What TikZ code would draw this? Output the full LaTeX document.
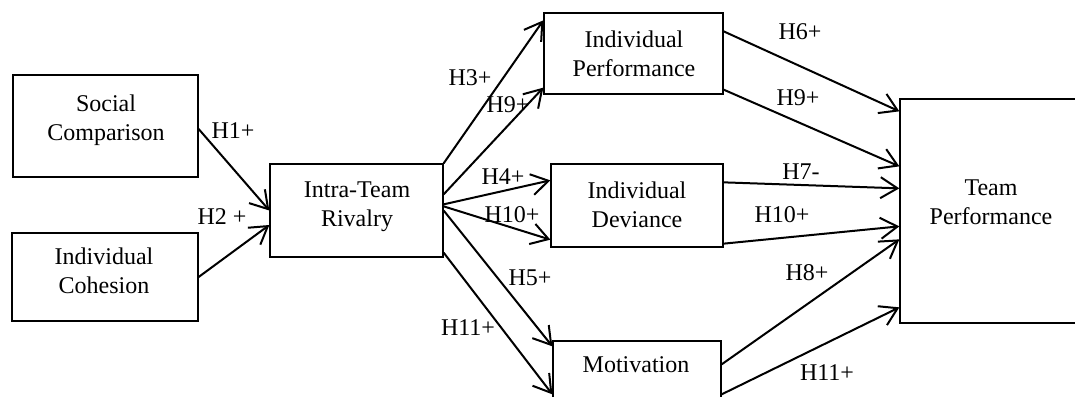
\documentclass[tikz,border=0pt]{standalone}
\usepackage{fontspec}
\setmainfont{Liberation Serif}
\usetikzlibrary{arrows.meta}
\begin{document}
\begin{tikzpicture}[x=1pt,y=-1pt,
  box/.style={draw, line width=1.3pt, inner sep=0pt, rectangle},
  txt/.style={inner sep=0pt, align=center, anchor=north, font=\fontsize{24}{28.5}\selectfont},
  lbl/.style={inner sep=0pt, font=\fontsize{24}{28.5}\selectfont},
  arr/.style={line width=2pt, -{Straight Barb[length=17pt,width=21pt,line width=2pt]}}]
\clip (0,0) rectangle (1075,396);
\fill[white] (0,0) rectangle (1075,396);
% boxes
\node[box, minimum width=185pt, minimum height=102pt] (sc) at (105.5,126) {};
\node[box, minimum width=186pt, minimum height=88pt] (ic) at (105,277) {};
\node[box, minimum width=173pt, minimum height=93pt] (itr) at (356.5,210.5) {};
\node[box, minimum width=179pt, minimum height=81pt] (ip) at (633.5,53.5) {};
\node[box, minimum width=172pt, minimum height=83pt] (id) at (637,205.5) {};
\node[box, minimum width=168pt, minimum height=90pt] (mot) at (637,386) {};
\node[box, minimum width=180pt, minimum height=224pt] (tp) at (990,211) {};
% texts
\node[txt] (sct) at (106,95) {Social\\Comparison};
\node[txt] (ict) at (104,248) {Individual\\Cohesion};
\node[txt] (itrt) at (357,182) {Intra-Team\\Rivalry};
\node[txt] (ipt) at (634,31) {Individual\\Performance};
\node[txt] (idt) at (637,182) {Individual\\Deviance};
\node[txt] (mott) at (636,356) {Motivation};
\node[txt] (tpt) at (991,180) {Team\\Performance};
% arrows left
\draw[arr] ([yshift=-3pt]sc.east) -- (itr.west);
\draw[arr] (ic.east) -- ([yshift=-14.5pt]itr.west);
\draw[arr] (itr.north east) -- ([yshift=-8pt]ip.north west);
\draw[arr] ([yshift=-31pt]itr.north east) -- ([yshift=7pt]ip.south west);
\draw[arr] ([yshift=-41pt]itr.north east) -- ([yshift=-17pt]id.north west);
\draw[arr] ([yshift=-43pt]itr.north east) -- ([yshift=8pt]id.south west);
\draw[arr] (itr.east) -- ([yshift=-6pt]mot.north west);
\draw[arr] ([yshift=5pt]itr.south east) -- ([yshift=-54pt]mot.north west);
% arrows right
\draw[arr] ([yshift=-19pt]ip.north east) -- ([yshift=-13pt]tp.north west);
\draw[arr] ([yshift=5pt]ip.south east) -- ([yshift=-68pt]tp.north west);
\draw[arr] ([yshift=-19pt]id.north east) -- ([yshift=-90pt]tp.north west);
\draw[arr] ([yshift=4pt]id.south east) -- ([yshift=-128pt]tp.north west);
\draw[arr] ([yshift=-24pt]mot.north east) -- ([yshift=-141pt]tp.north west);
\draw[arr] ([yshift=-54pt]mot.north east) -- ([yshift=-209pt]tp.north west);
% labels
\node[lbl] (l1) at (233,131) {H1+};
\node[lbl] (l2) at (222,217) {H2 +};
\node[lbl] (l3) at (470,78) {H3+};
\node[lbl] (l9a) at (508,105) {H9+};
\node[lbl] (l4) at (503,177) {H4+};
\node[lbl] (l10a) at (512,215) {H10+};
\node[lbl] (l5) at (530,278) {H5+};
\node[lbl] (l11a) at (468,328) {H11+};
\node[lbl] (l6) at (800,32) {H6+};
\node[lbl] (l9b) at (798,98) {H9+};
\node[lbl] (l7) at (801,172) {H7-};
\node[lbl] (l10b) at (782,215) {H10+};
\node[lbl] (l8) at (807,273) {H8+};
\node[lbl] (l11b) at (827,373) {H11+};
\end{tikzpicture}
\end{document}
